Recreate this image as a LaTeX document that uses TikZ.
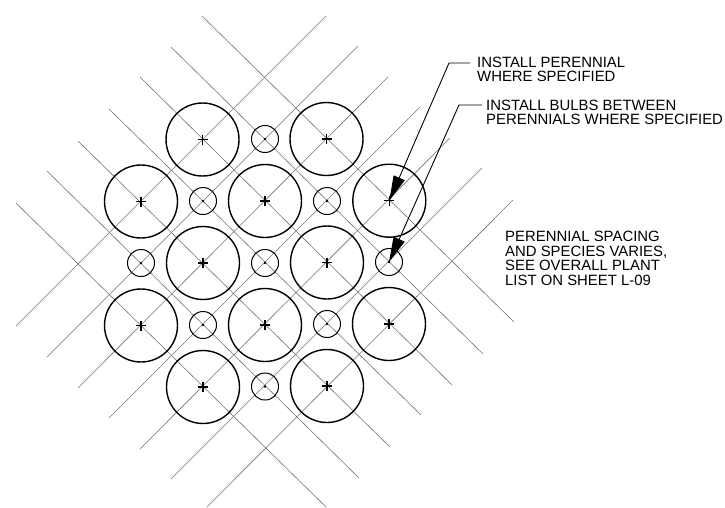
\documentclass[tikz,border=0pt]{standalone}
\usepackage{fontspec}
\setmainfont{Liberation Sans}
\usetikzlibrary{arrows.meta}
\tikzstyle{grid line}=[black!55,line width=0.6pt]
\tikzstyle{plant}=[circle,draw,line width=1.4pt,inner sep=0pt,minimum size=73pt]
\tikzstyle{perennial}=[plant]
\tikzstyle{bulb}=[plant,line width=1pt,minimum size=27pt]
\tikzstyle{plant mark}=[line width=1.2pt]
\tikzstyle{leader}=[line width=0.9pt,-{Triangle[length=25pt,width=12pt]}]
\tikzstyle{note}=[inner sep=0pt,align=left,anchor=north west,font=\fontsize{14.9}{14.6}\selectfont]

\begin{document}
\begin{tikzpicture}[x=1pt,y=-1pt]
	\useasboundingbox (0,0) rectangle (725,507);
	% planting grid
	\foreach \n/\ax/\ay/\bx/\by in {1/202/16/514/322,2/171/47/483/354,3/140/77/452/385,4/109/109/421/415,5/78/141/390/447,6/47/171/359/478,7/16/203/326/507}{
		\coordinate (D-\n-a) at (\ax,\ay);
		\coordinate (D-\n-b) at (\bx,\by);
		\draw[grid line] (D-\n-a) -- (D-\n-b);
	}
	\foreach \n/\ax/\ay/\bx/\by in {1/16/326/326/16,2/47/357/358/46,3/78/388/388/77,4/109/418/420/107,5/140/449/450/138,6/171/479/482/168,7/207/507/513/200}{
		\coordinate (U-\n-a) at (\ax,\ay);
		\coordinate (U-\n-b) at (\bx,\by);
		\draw[grid line] (U-\n-a) -- (U-\n-b);
	}
	% perennials
	\foreach \n/\x/\y in {1/202.5/139.5,2/326.5/139,3/141/201.5,4/265/201,5/389.3/200.7,6/203/263,7/327/262.5,8/141/325.5,9/265/325,10/389/324,11/203/387,12/327/386}{
		\node[perennial] (P-\n) at (\x,\y) {};
		\draw[plant mark] (P-\n.center) +(-5,0) -- +(5,0) (P-\n.center) +(0,-5) -- +(0,5);
	}
	% bulbs
	\foreach \n/\x/\y in {1/265/139,2/203/201,3/327/201,4/141/263,5/265/263,6/389/262,7/203/325,8/327/324,9/265/386.5}{
		\node[bulb] (B-\n) at (\x,\y) {};
		\fill (B-\n.center) circle (1.4);
	}
	% notes
	\node[note] (N-1) at (477,56.5) {INSTALL PERENNIAL\\WHERE SPECIFIED};
	\node[note] (N-2) at (486,99.5) {INSTALL BULBS BETWEEN\\PERENNIALS WHERE SPECIFIED};
	\node[note] (N-3) at (505,231) {PERENNIAL SPACING\\AND SPECIES VARIES,\\SEE OVERALL PLANT\\LIST ON SHEET L-09};
	% leaders
	\coordinate (K-1) at (449,63);
	\coordinate (K-2) at (459,105);
	\draw[leader] (N-1.west |- K-1) ++(-7,0) -- (K-1) -- (P-5.center);
	\draw[leader] (N-2.west |- K-2) ++(-4,0) -- (K-2) -- (B-6.center);
\end{tikzpicture}
\end{document}
